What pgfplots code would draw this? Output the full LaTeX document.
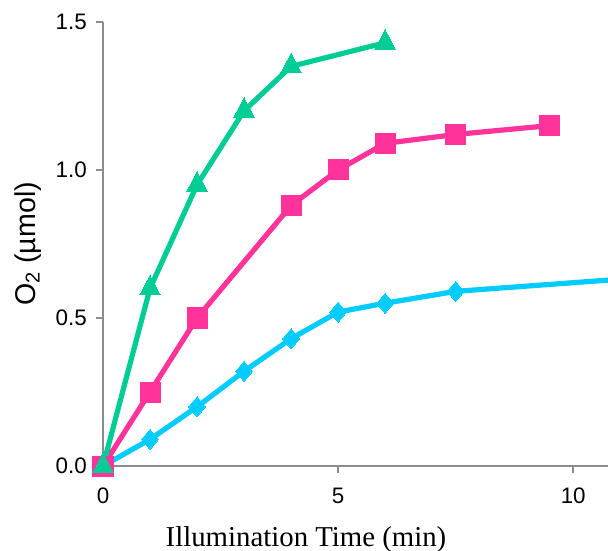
\documentclass[border=0pt]{standalone}
\usepackage{fontspec}
\setmainfont{Liberation Sans}
\newfontfamily\timesfont{Liberation Serif}
\usepackage{pgfplots}
\pgfplotsset{compat=1.18}
\usetikzlibrary{calc}

\definecolor{cgreen}{RGB}{0,204,150}
\definecolor{cpink}{RGB}{255,51,153}
\definecolor{ccyan}{RGB}{0,204,255}
\definecolor{axgray}{RGB}{140,140,140}

\begin{document}
\begin{tikzpicture}
\begin{axis}[
  name=ax,
  scale only axis,
  width=252.5pt, height=222pt,
  xmin=0, xmax=10.74, ymin=0, ymax=1.5,
  axis lines*=left,
  axis line style={axgray, line width=0.75pt},
  tick style={axgray, line width=0.75pt},
  tick align=outside,
  major tick length=3.5pt,
  xtick={0,5,10}, ytick={0,0.5,1,1.5},
  /pgf/number format/assume math mode=true,
  yticklabel style={/pgf/number format/.cd, fixed, fixed zerofill, precision=1},
  xticklabel style={yshift=-3pt},
  ticklabel style={font=\fontsize{11.2}{13}\selectfont, text=black},
  xlabel={\timesfont Illumination Time (min)},
  ylabel={O\textsubscript{2} (µmol)},
  every axis x label/.style={at={(axis description cs:0.402,0)}, anchor=base, yshift=-40pt, font=\fontsize{14.4}{17}\selectfont},
  every axis y label/.style={at={(axis description cs:0,0.5)}, xshift=-37.5pt, rotate=90, anchor=center, font=\fontsize{14.3}{17}\selectfont},
  clip=false,
  line width=2.6pt,
]
% cyan series: diamonds; the trend keeps rising up to the end of the axis
\addplot[ccyan, line width=2.6pt, mark=none] coordinates {(7.5,0.59) (10.74,0.628)};
\addplot[ccyan, line width=2.6pt, mark=diamond*, mark size=5pt, mark options={solid, fill=ccyan, line width=0pt, xscale=1.13}]
  coordinates {(0,0) (1,0.09) (2,0.20) (3,0.32) (4,0.43) (5,0.52) (6,0.55) (7.5,0.59)};
% pink series: squares
\addplot[cpink, line width=2.6pt, mark=square*, mark size=5pt, mark options={solid, fill=cpink, line width=0pt}]
  coordinates {(0,0) (1,0.25) (2,0.50) (4,0.88) (5,1.00) (6,1.09) (7.5,1.12) (9.5,1.15)};
% green series: triangles
\addplot[cgreen, line width=2.6pt, mark=triangle*, mark size=6pt, mark options={solid, fill=cgreen, line width=0pt, yscale=1.1}]
  coordinates {(0,0) (1,0.60) (2,0.95) (3,1.20) (4,1.35) (6,1.43)};
\end{axis}
\pgfresetboundingbox
\path[use as bounding box] ($(ax.south west)+(-51.5pt,-42pt)$) rectangle ($(ax.north east)+(0,11pt)$);
\end{tikzpicture}
\end{document}
